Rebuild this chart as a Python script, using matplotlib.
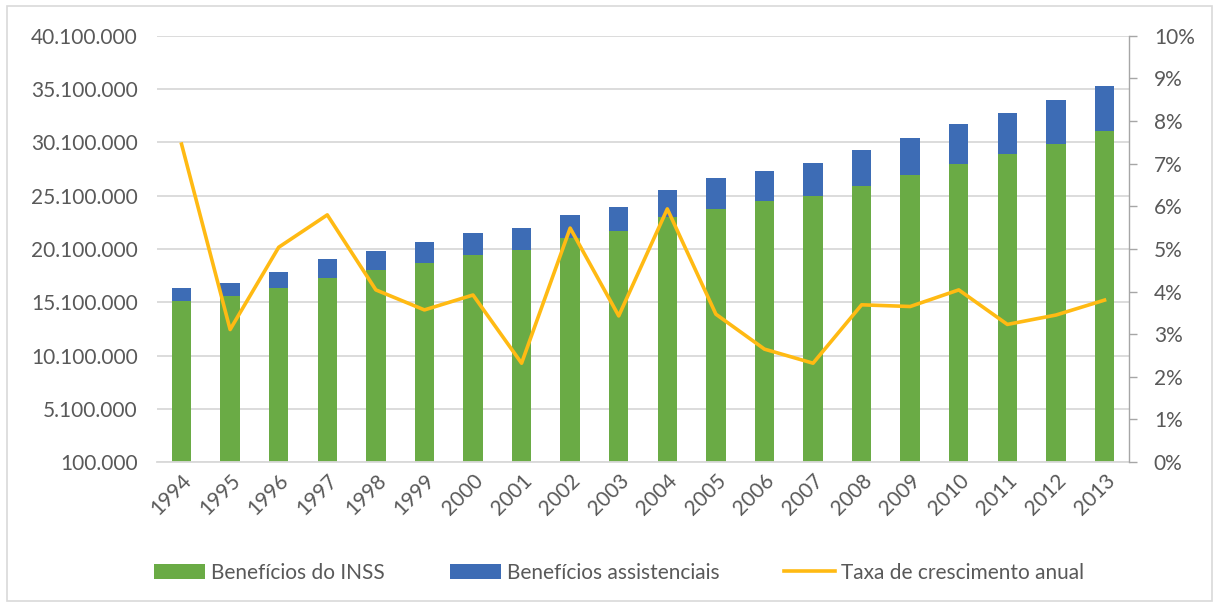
import matplotlib
matplotlib.use("Agg")
import matplotlib.pyplot as plt
import numpy as np
from matplotlib.patches import Rectangle
from matplotlib.ticker import FuncFormatter

plt.rcParams['font.family'] = ['Lato', 'DejaVu Sans']

# dados
anos = ['1994', '1995', '1996', '1997', '1998', '1999', '2000', '2001', '2002', '2003',
        '2004', '2005', '2006', '2007', '2008', '2009', '2010', '2011', '2012', '2013']
inss = [15.22, 15.69, 16.41, 17.41, 18.10, 18.81, 19.54, 20.04, 21.10, 21.82,
        23.13, 23.86, 24.61, 25.11, 26.04, 27.02, 28.08, 29.05, 29.99, 31.21]
total = [16.41, 16.88, 17.97, 19.16, 19.91, 20.73, 21.57, 22.04, 23.26, 24.07,
         25.67, 26.74, 27.45, 28.21, 29.40, 30.49, 31.81, 32.87, 34.06, 35.41]
taxa = [7.46, 3.11, 5.04, 5.80, 4.04, 3.57, 3.92, 2.32, 5.49, 3.43,
        5.94, 3.47, 2.65, 2.32, 3.69, 3.65, 4.04, 3.23, 3.45, 3.80]

inss = np.array(inss) * 1e6
assist = np.array(total) * 1e6 - inss
taxa = np.array(taxa) / 100

verde = '#6AAB45'
azul = '#3D6CB5'
amarelo = '#FFBA13'
cinza_txt = '#595959'

fig = plt.figure(figsize=(12.19, 6.08), dpi=100)
ax = fig.add_axes([0.129, 0.240, 0.797, 0.701])
x = np.arange(len(anos))

b1 = ax.bar(x, inss, width=0.4, color=verde, label='Benefícios do INSS', zorder=2)
b2 = ax.bar(x, assist, bottom=inss, width=0.4, color=azul, label='Benefícios assistenciais', zorder=2)

ax.set_ylim(100000, 40100000)
ax.set_yticks(np.arange(100000, 40100001, 5000000))
ax.yaxis.set_major_formatter(FuncFormatter(lambda v, p: f"{v:,.0f}".replace(',', '.')))
ax.yaxis.grid(True, color='#D9D9D9', linewidth=1.3, zorder=0)
ax.set_axisbelow(True)
ax.set_xlim(-0.5, len(anos) - 0.5)
ax.set_xticks(x)
ax.set_xticklabels(anos, rotation=45, ha='right', rotation_mode='anchor')
ax.tick_params(axis='y', length=0, labelsize=15, labelcolor=cinza_txt, pad=14)
ax.tick_params(axis='x', length=0, labelsize=15, labelcolor=cinza_txt, pad=6)
for s in ['top', 'left', 'right']:
    ax.spines[s].set_visible(False)
ax.spines['bottom'].set_color('#D9D9D9')
ax.spines['bottom'].set_linewidth(1.3)

ax2 = ax.twinx()
l1, = ax2.plot(x, taxa, color=amarelo, linewidth=2.6, label='Taxa de crescimento anual', zorder=3)
ax2.set_ylim(0, 0.10)
ax2.set_yticks(np.arange(0, 0.1001, 0.01))
ax2.yaxis.set_major_formatter(FuncFormatter(lambda v, p: f"{v*100:.0f}%"))
ax2.tick_params(axis='y', length=6, width=1, color='#A6A6A6', labelsize=15, labelcolor=cinza_txt, pad=12)
for s in ['top', 'left', 'bottom']:
    ax2.spines[s].set_visible(False)
ax2.spines['right'].set_color('#A6A6A6')
ax2.spines['right'].set_linewidth(1)

fig.legend(handles=[b1, b2, l1], loc='center', bbox_to_anchor=(0.508, 0.058), ncol=3,
           frameon=False, fontsize=15, labelcolor=cinza_txt, handlelength=2.45,
           handleheight=0.8, columnspacing=3.1, handletextpad=0.3)

fig.patches.append(Rectangle((0.006, 0.012), 0.988, 0.978, transform=fig.transFigure,
                             fill=False, edgecolor='#D9D9D9', linewidth=1.2))

fig.savefig('out.png', dpi=100, facecolor='white')
